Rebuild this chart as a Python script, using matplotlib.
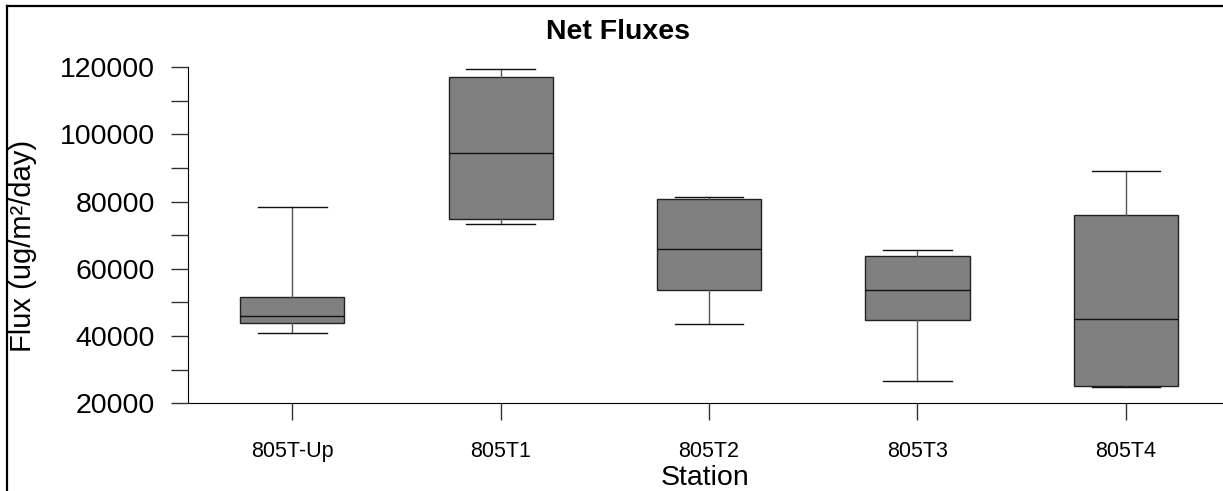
import matplotlib
matplotlib.use("Agg")
import matplotlib.pyplot as plt
from matplotlib.lines import Line2D
from matplotlib.ticker import MultipleLocator

plt.rcParams['font.family'] = ['Liberation Sans', 'DejaVu Sans']

# box statistics
stations = ["805T-Up", "805T1", "805T2", "805T3", "805T4"]
whisk_lo = [40800, 73400, 43600, 26500, 24900]
q1 = [43800, 74700, 53700, 44900, 25100]
med = [46100, 94300, 65800, 53600, 45200]
q3 = [51700, 117000, 80700, 63700, 76000]
whisk_hi = [78500, 119400, 81200, 65700, 89200]

stats = []
for i, name in enumerate(stations):
    stats.append(dict(label=name, whislo=whisk_lo[i], q1=q1[i], med=med[i],
                      q3=q3[i], whishi=whisk_hi[i], fliers=[]))

fig = plt.figure(figsize=(12.23, 4.91), dpi=100)
ax = fig.add_axes([188 / 1223, 1 - 403.3 / 491, 1 - 188 / 1223, (403.3 - 67) / 491])

ax.bxp(stats, positions=range(len(stations)), widths=0.5, patch_artist=True,
       showfliers=False,
       boxprops=dict(facecolor="#808080", edgecolor="#222222", linewidth=1),
       medianprops=dict(color="#111111", linewidth=1),
       whiskerprops=dict(color="#555555", linewidth=1),
       capprops=dict(color="#111111", linewidth=1),
       capwidths=0.33)

ax.set_xlim(-0.5, (1223 - 293) / 208.25)
ax.set_ylim(20000, 120000)
ax.yaxis.set_major_locator(MultipleLocator(20000))
ax.yaxis.set_minor_locator(MultipleLocator(10000))

ax.spines['top'].set_visible(False)
ax.spines['right'].set_visible(False)
ax.tick_params(axis='y', which='both', length=12, width=1, color="#333333",
               labelsize=20.5, pad=12)
ax.tick_params(axis='x', length=12, width=1, color="#333333", labelsize=15.5, pad=15)
ax.set_xticks(range(len(stations)))
ax.set_xticklabels(stations)

ax.set_xlabel("Station", fontsize=20.5)
ax.xaxis.set_label_coords(0.5, (403.3 - 478) / (403.3 - 67), transform=ax.transAxes)
ax.set_ylabel("Flux (ug/m²/day)", fontsize=21)
ax.yaxis.set_label_coords(23 / 1223, 0.5, transform=fig.transFigure)
ax.yaxis.label.set_va('center')
ax.xaxis.label.set_va('center')
fig.text(0.505, 1 - 32 / 491, "Net Fluxes", ha='center', va='center',
         fontsize=20.5, fontweight='bold')

# page border (left and top edges)
fig.add_artist(Line2D([7 / 1223, 7 / 1223], [0, 1 - 6 / 491], color='black',
                      linewidth=1.6, transform=fig.transFigure))
fig.add_artist(Line2D([7 / 1223, 1], [1 - 6 / 491, 1 - 6 / 491], color='black',
                      linewidth=1.6, transform=fig.transFigure))

fig.savefig("out.png", dpi=100)
